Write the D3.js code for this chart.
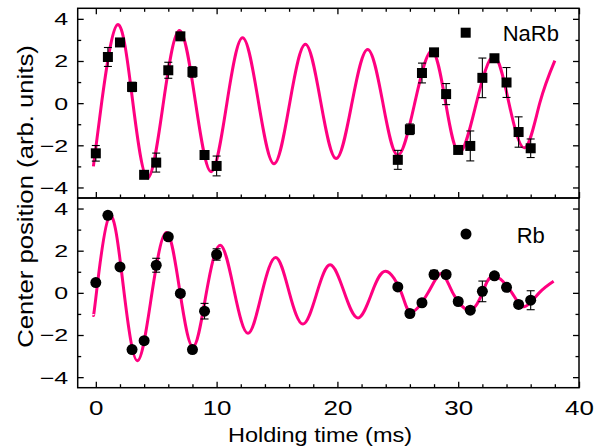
<!DOCTYPE html>
<html>
<head>
<meta charset="utf-8">
<script src="https://cdn.jsdelivr.net/npm/d3@7"></script>
<style>
	body { margin: 0; background: #fff; }
	text { font-family: Arial, "Liberation Sans", sans-serif; fill: #000; }
</style>
</head>
<body>
<div id="chart"></div>
<script>
	// holding times (ms) of the measured points, same for both species
	var holdTime = [0, 1, 2, 3, 4, 5, 6, 7, 8, 9, 10,
		25, 26, 27, 28, 29, 30, 31, 32, 33, 34, 35, 36];

	// NaRb center position and error
	var narbPos = [-2.38, 2.19, 2.88, 0.77, -3.40, -2.82, 1.56, 3.17, 1.48, -2.46, -2.98,
		-2.69, -1.24, 1.43, 2.41, 0.43, -2.22, -2.03, 1.20, 2.13, 0.98, -1.37, -2.14];
	var narbErr = [0.37, 0.45, 0.15, 0.22, 0.15, 0.45, 0.38, 0.15, 0.25, 0.2, 0.47,
		0.45, 0.25, 0.47, 0.15, 0.5, 0.15, 0.71, 0.94, 0.15, 0.71, 0.72, 0.44];

	// Rb center position and error
	var rbPos = [0.49, 3.68, 1.23, -2.69, -2.27, 1.31, 2.66, -0.03, -2.69, -0.87, 1.82,
		0.28, -0.98, -0.47, 0.87, 0.87, -0.41, -0.82, 0.07, 0.81, 0.26, -0.55, -0.35];
	var rbErr = [0.15, 0.15, 0.15, 0.15, 0.15, 0.33, 0.15, 0.15, 0.15, 0.37, 0.27,
		0.15, 0.15, 0.15, 0.2, 0.15, 0.15, 0.15, 0.49, 0.15, 0.15, 0.15, 0.45];

	// fit curves, read at extrema and zero crossings
	var narbFitT = [-0.2, 0.5, 1.8, 3.05, 4.3, 5.6, 6.93, 8.25, 9.55, 10.85, 12.15, 13.45, 14.75,
		16.05, 17.35, 18.62, 19.9, 21.2, 22.5, 23.75, 25.0, 26.4, 27.8, 28.95, 30.1,
		31.5, 32.95, 34.2, 35.5, 36.75, 38.0];
	var narbFitY = [-3.0, 0.1, 3.73, 0.1, -3.55, 0.05, 3.45, 0.05, -3.25, 0.0, 3.1, 0.1, -2.88,
		0.0, 2.79, 0.05, -2.63, 0.0, 2.55, 0.05, -2.47, 0.0, 2.47, 0.05, -2.35,
		0.0, 2.22, 0.0, -2.12, 0.0, 2.02];

	var rbFitT = [-0.2, 0.05, 1.15, 2.3, 3.45, 4.65, 5.85, 6.95, 8.05, 9.15, 10.3, 11.45, 12.6,
		13.75, 14.9, 16.0, 17.15, 18.3, 19.4, 20.55, 21.7, 22.85, 24.0, 25.3, 26.1,
		27.5, 28.6, 29.55, 30.95, 32.0, 32.95, 34.45, 35.45, 36.7, 37.9];
	var rbFitY = [-1.06, 0.0, 3.65, 0.2, -3.22, 0.0, 2.86, 0.1, -2.56, 0.0, 2.26, 0.1, -1.92,
		0.0, 1.68, 0.05, -1.48, 0.0, 1.33, 0.05, -1.19, 0.0, 1.02, 0.0, -0.92,
		0.0, 0.92, 0.0, -0.82, 0.0, 0.8, 0.0, -0.66, 0.0, 0.55];

	var xMajor = [0, 10, 20, 30, 40];
	var xMinor = [2, 4, 6, 8, 12, 14, 16, 18, 22, 24, 26, 28, 32, 34, 36, 38];
	var yMajor = [-4, -2, 0, 2, 4];
	var yMinor = [-3, -1, 1, 3];

	var W = 600, H = 447;
	var plotLeft = 77.7, plotRight = 579, plotTop = 8.3, panelH = 189.7;
	var pink = "#ff0080";

	var svg = d3.select("#chart").append("svg")
		.attr("width", W)
		.attr("height", H);

	var x = d3.scaleLinear().domain([-1.5, 40]).range([plotLeft, plotRight]);

	function tickAxis(axis, pos, vals, len, transform) {
		var g = svg.append("g")
			.attr("transform", transform)
			.call(axis(pos).tickValues(vals).tickSize(-len).tickFormat(""));
		g.select(".domain").remove();
		g.selectAll("line").attr("stroke", "#000").attr("stroke-width", 1.3);
		return g;
	}

	function drawPanel(idx, vals, errs, fitT, fitY, shape, label, legend) {
		var y0 = plotTop + idx * panelH;
		var y = d3.scaleLinear().domain([-4.5, 4.5]).range([y0 + panelH, y0]);
		var g = svg.append("g");

		g.append("path")
			.datum(d3.zip(fitT, fitY))
			.attr("fill", "none")
			.attr("stroke", pink)
			.attr("stroke-width", 3)
			.attr("d", d3.line()
				.x(function(d) { return x(d[0]); })
				.y(function(d) { return y(d[1]); })
				.curve(d3.curveNatural));

		var pts = d3.zip(holdTime, vals, errs);

		var eb = g.selectAll("g.err").data(pts).enter().append("g")
			.attr("stroke", "#000").attr("stroke-width", 1.1);
		eb.append("line")
			.attr("x1", function(d) { return x(d[0]); })
			.attr("x2", function(d) { return x(d[0]); })
			.attr("y1", function(d) { return y(d[1] - d[2]); })
			.attr("y2", function(d) { return y(d[1] + d[2]); });
		[-1, 1].forEach(function(s) {
			eb.append("line")
				.attr("x1", function(d) { return x(d[0]) - 4; })
				.attr("x2", function(d) { return x(d[0]) + 4; })
				.attr("y1", function(d) { return y(d[1] + s * d[2]); })
				.attr("y2", function(d) { return y(d[1] + s * d[2]); });
		});

		if (shape == "square") {
			g.selectAll("rect.pt").data(pts).enter().append("rect")
				.attr("x", function(d) { return x(d[0]) - 5; })
				.attr("y", function(d) { return y(d[1]) - 5; })
				.attr("width", 10).attr("height", 10)
				.attr("fill", "#000");
			g.append("rect")
				.attr("x", legend[0] - 5).attr("y", legend[1] - 5)
				.attr("width", 10).attr("height", 10).attr("fill", "#000");
		} else {
			g.selectAll("circle.pt").data(pts).enter().append("circle")
				.attr("cx", function(d) { return x(d[0]); })
				.attr("cy", function(d) { return y(d[1]); })
				.attr("r", 5.5)
				.attr("fill", "#000");
			g.append("circle")
				.attr("cx", legend[0]).attr("cy", legend[1])
				.attr("r", 5.5).attr("fill", "#000");
		}
		g.append("text")
			.attr("x", legend[2]).attr("y", legend[3])
			.style("font-size", "22px")
			.text(label);

		// y ticks, left with labels, right without
		var ya = svg.append("g")
			.attr("transform", "translate(" + plotLeft + ",0)")
			.call(d3.axisLeft(y).tickValues(yMajor).tickSize(-6).tickPadding(9.5));
		ya.select(".domain").remove();
		ya.selectAll("line").attr("stroke", "#000").attr("stroke-width", 1.3);
		ya.selectAll("text")
			.style("font-size", "25px")
			.attr("transform", "scale(1,0.68)")
			.attr("dy", "0.35em");
		tickAxis(d3.axisLeft, y, yMinor, 3.5, "translate(" + plotLeft + ",0)");
		tickAxis(d3.axisRight, y, yMajor, 6, "translate(" + plotRight + ",0)");
		tickAxis(d3.axisRight, y, yMinor, 3.5, "translate(" + plotRight + ",0)");

		svg.append("rect")
			.attr("x", plotLeft).attr("y", y0)
			.attr("width", plotRight - plotLeft).attr("height", panelH)
			.attr("fill", "none")
			.attr("stroke", "#000")
			.attr("stroke-width", 1.5);
		return y;
	}

	drawPanel(0, narbPos, narbErr, narbFitT, narbFitY, "square", "NaRb", [465.7, 32.7, 502.7, 41]);
	drawPanel(1, rbPos, rbErr, rbFitT, rbFitY, "circle", "Rb", [466, 234, 516.7, 243.3]);

	// x ticks: top of upper panel, bottom of upper panel, bottom of lower panel
	var divY = plotTop + panelH, plotBottom = plotTop + 2 * panelH;
	tickAxis(d3.axisTop, x, xMajor, 6, "translate(0," + plotTop + ")");
	tickAxis(d3.axisTop, x, xMinor, 3.5, "translate(0," + plotTop + ")");
	tickAxis(d3.axisBottom, x, xMajor, 6, "translate(0," + divY + ")");
	tickAxis(d3.axisBottom, x, xMinor, 3.5, "translate(0," + divY + ")");
	tickAxis(d3.axisBottom, x, xMinor, 3.5, "translate(0," + plotBottom + ")");

	var xa = svg.append("g")
		.attr("transform", "translate(0," + plotBottom + ")")
		.call(d3.axisBottom(x).tickValues(xMajor).tickSize(-6));
	xa.select(".domain").remove();
	xa.selectAll("line").attr("stroke", "#000").attr("stroke-width", 1.3);
	xa.selectAll("text")
		.style("font-size", "26px")
		.attr("transform", "scale(1,0.79)")
		.attr("y", 27 / 0.79)
		.attr("dy", 0);

	svg.append("text")
		.attr("transform", "translate(320,442) scale(1,0.87)")
		.attr("text-anchor", "middle")
		.style("font-size", "23.5px")
		.text("Holding time (ms)");

	svg.append("text")
		.attr("transform", "translate(33,196.5) rotate(-90) scale(1,0.87)")
		.attr("text-anchor", "middle")
		.style("font-size", "25.7px")
		.text("Center position (arb. units)");
</script>
</body>
</html>
